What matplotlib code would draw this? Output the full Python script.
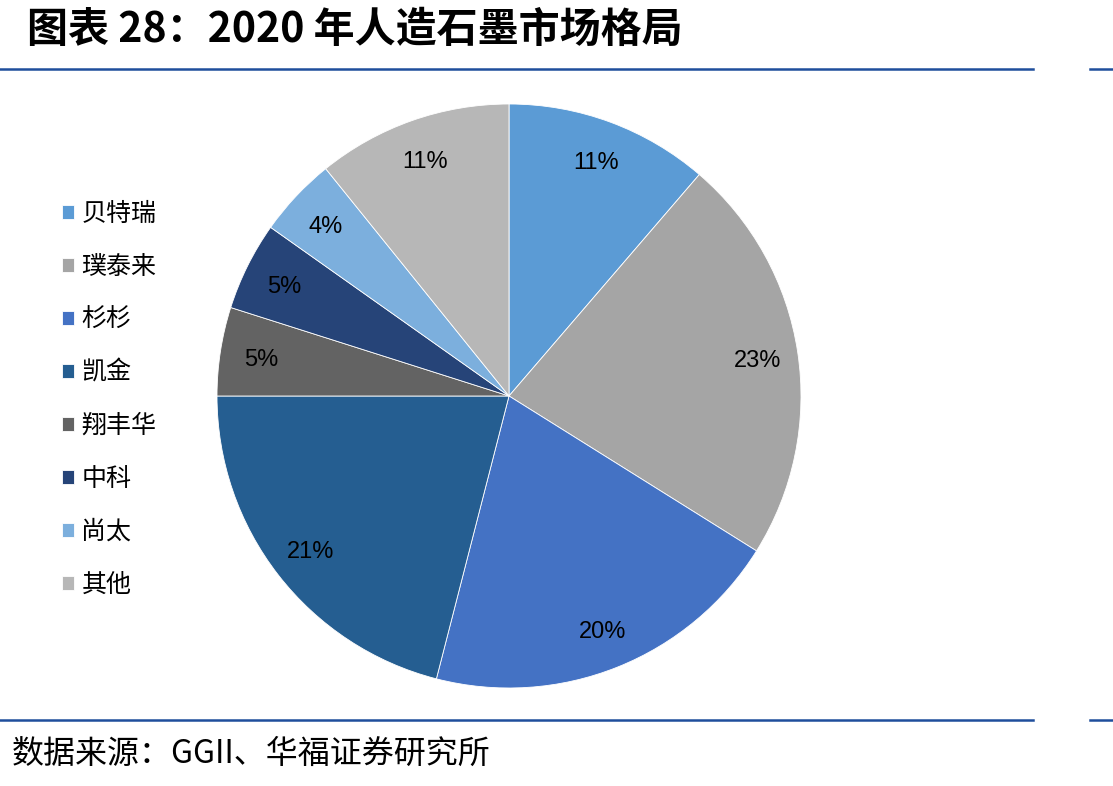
# -*- coding: utf-8 -*-
# 2020年人造石墨市场格局 饼图
import numpy as np
import matplotlib
matplotlib.use('Agg')
import matplotlib.pyplot as plt
from matplotlib.lines import Line2D

plt.rcParams['font.family'] = ['Noto Sans CJK SC', 'DejaVu Sans']

companies = ['贝特瑞', '璞泰来', '杉杉', '凯金', '翔丰华', '中科', '尚太', '其他']
shares = [11.3, 22.6, 20.1, 21.0, 4.9, 4.9, 4.4, 10.8]
pct_labels = ['11%', '23%', '20%', '21%', '5%', '5%', '4%', '11%']
colors = ['#5B9BD5', '#A5A5A5', '#4472C4', '#255E91',
          '#636363', '#264478', '#7CAFDD', '#B7B7B7']

W, H = 1113, 786
fig = plt.figure(figsize=(W / 100, H / 100), dpi=100)

# 饼图
cx, cy, r = 509, 396, 292
ax = fig.add_axes([(cx - r) / W, (H - cy - r) / H, 2 * r / W, 2 * r / H])
wedges, _ = ax.pie(shares, colors=colors, startangle=90, counterclock=False,
                   radius=1, wedgeprops=dict(edgecolor='white', linewidth=0.6))
for w, lab in zip(wedges, pct_labels):
    mid = np.deg2rad((w.theta1 + w.theta2) / 2)
    ax.text(0.86 * np.cos(mid), 0.86 * np.sin(mid), lab, ha='center',
            va='center_baseline', fontsize=17, color='black',
            family=['Liberation Sans', 'DejaVu Sans'])
ax.set_xlim(-1, 1)
ax.set_ylim(-1, 1)
ax.set_aspect('equal')
ax.axis('off')

# 图例
leg = fig.legend(wedges, companies, loc='upper left',
                 bbox_to_anchor=(49 / W, 1 - 188 / H), frameon=False,
                 fontsize=18, handlelength=0.5, handleheight=0.5,
                 handletextpad=0.3, labelspacing=1.08, borderpad=0)

# 标题与横线
fig.text(27 / W, 1 - 30 / H, '图表 28：2020 年人造石墨市场格局', fontsize=29.5,
         fontweight='bold', ha='left', va='center')
line_color = '#1F4E9C'
for y in (69, 720):
    fig.add_artist(Line2D([0, 1033 / W], [1 - y / H, 1 - y / H], color=line_color, lw=1.8))
    fig.add_artist(Line2D([1090 / W, 1], [1 - y / H, 1 - y / H], color=line_color, lw=1.8))

fig.text(12 / W, 1 - 754 / H, '数据来源：GGII、华福证券研究所', fontsize=23,
         ha='left', va='center')

fig.savefig('out.png', dpi=100)
